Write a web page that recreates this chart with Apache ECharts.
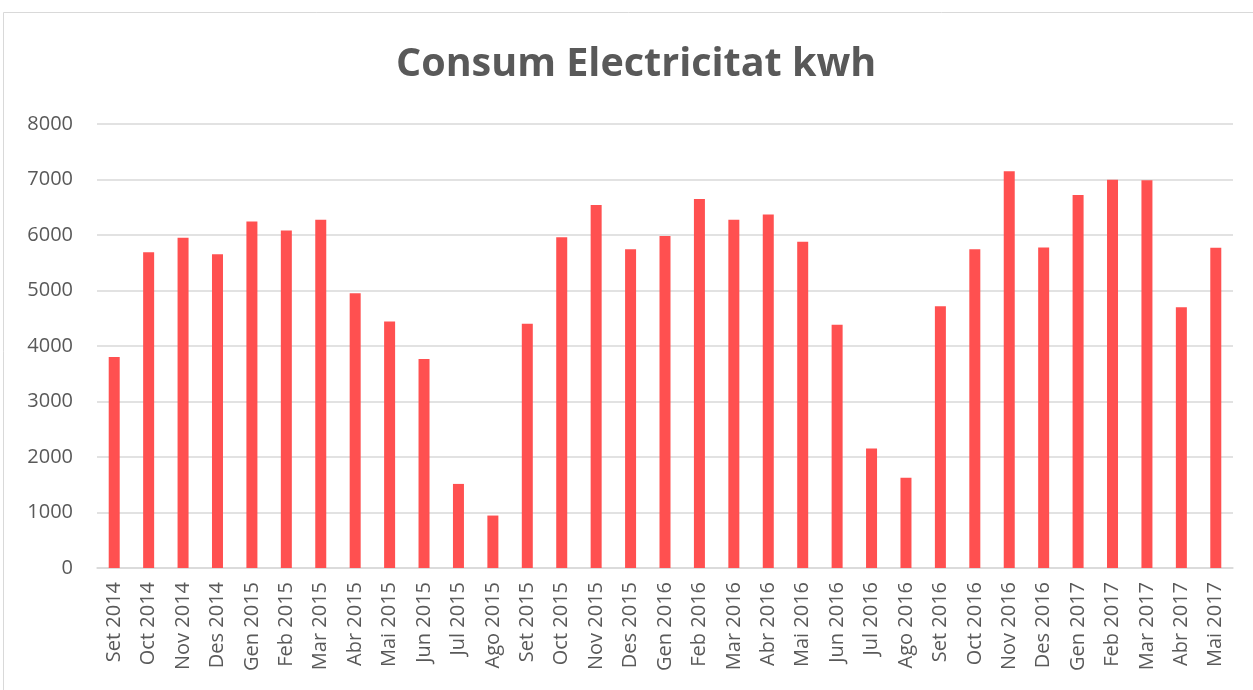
<!DOCTYPE html>
<html><head><meta charset="utf-8">
<script src="https://cdn.jsdelivr.net/npm/echarts@6/dist/echarts.min.js"></script>
<style>html,body{margin:0;padding:0;background:#fff}#c{width:1253px;height:690px}</style>
</head><body><div id="c"></div>
<script>
const titleText = "Consum Electricitat kwh";
const categories = ["Set 2014","Oct 2014","Nov 2014","Des 2014","Gen 2015","Feb 2015","Mar 2015","Abr 2015","Mai 2015","Jun 2015","Jul 2015","Ago 2015","Set 2015","Oct 2015","Nov 2015","Des 2015","Gen 2016","Feb 2016","Mar 2016","Abr 2016","Mai 2016","Jun 2016","Jul 2016","Ago 2016","Set 2016","Oct 2016","Nov 2016","Des 2016","Gen 2017","Feb 2017","Mar 2017","Abr 2017","Mai 2017"];
const consum = [3800,5690,5950,5655,6245,6080,6275,4950,4440,3765,1515,945,4400,5960,6540,5745,5980,6650,6275,6370,5880,4385,2155,1625,4715,5745,7150,5775,6720,6995,6985,4700,5770];
const yMin = 0, yMax = 8000, yStep = 1000;

const chart = echarts.init(document.getElementById('c'), null, {renderer:'canvas'});
chart.setOption({
  animation: false,
  backgroundColor: '#fff',
  graphic: [{type:'rect', shape:{x:3.5,y:12.5,width:1300,height:700}, style:{fill:'none', stroke:'#d9d9d9', lineWidth:1}, silent:true}],
  title: {text: titleText, left: 391, top: 40,
    textStyle:{fontFamily:'Open Sans', fontWeight:'bold', fontSize:39.5, color:'#595959'}},
  grid: {left: 97, right: 20, top: 124, bottom: 122, containLabel:false},
  xAxis: {type:'category', data: categories,
    axisLine:{lineStyle:{color:'#d9d9d9', width:1.5}},
    axisTick:{show:false},
    axisLabel:{rotate:90, interval:0, margin:14, fontFamily:'Open Sans', fontSize:20, color:'#595959'}},
  yAxis: {type:'value', min:yMin, max:yMax, interval:yStep,
    axisLine:{show:false}, axisTick:{show:false},
    splitLine:{lineStyle:{color:'#d9d9d9', width:1.5}},
    axisLabel:{margin:24, fontFamily:'Open Sans', fontSize:20, color:'#595959', formatter: v => String(v)}},
  series: [{type:'bar', data: consum, barWidth: 11,
    itemStyle:{color:'#FF5050'}}]
});
</script></body></html>
